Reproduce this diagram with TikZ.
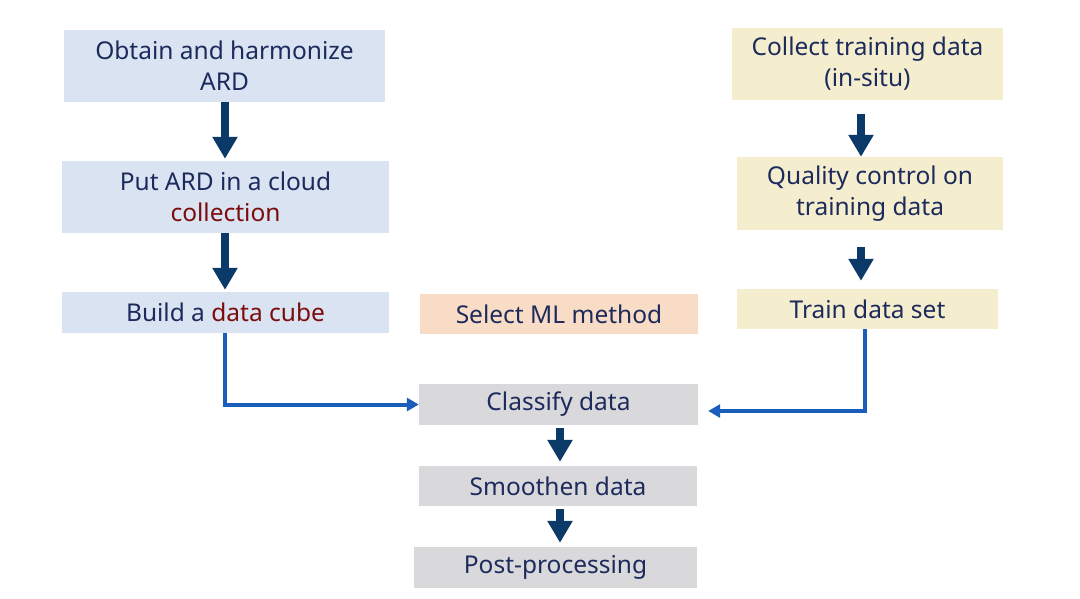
\documentclass[tikz,border=0pt]{standalone}
\usepackage{fontspec}
\setmainfont{Noto Sans}
\usetikzlibrary{arrows.meta}
\definecolor{txt}{HTML}{1C2A5C}
\definecolor{red}{HTML}{7A0C0C}
\definecolor{bluebox}{HTML}{DAE3F2}
\definecolor{peach}{HTML}{F8DCC6}
\definecolor{yellowbox}{HTML}{F5EECE}
\definecolor{graybox}{HTML}{D9D9DC}
\definecolor{dark}{HTML}{0B3A68}
\definecolor{conn}{HTML}{1A5DBA}
\tikzset{
  box/.style={draw=none, inner sep=0pt, align=center, text=txt,
    font=\fontsize{24.5}{31}\selectfont},
  fat/.style={draw=dark, line width=8pt, -{Triangle[width=24pt,length=22pt]}},
  link/.style={draw=conn, line width=4pt, -{Triangle[width=13pt,length=12pt]}},
}
\begin{document}
\begin{tikzpicture}[x=1pt,y=-1pt]
\useasboundingbox (0,0) rectangle (1080,598);
\node[box, fill=bluebox, minimum width=321pt, minimum height=72pt] (obtain) at (224.5,66) {Obtain and harmonize\\ARD};
\node[box, fill=bluebox, minimum width=327pt, minimum height=72pt] (put) at (225.5,197) {Put ARD in a cloud\\\textcolor{red}{collection}};
\node[box, fill=bluebox, minimum width=327pt, minimum height=41pt] (build) at (225.5,312.5) {Build a \textcolor{red}{data cube}};
\node[box, fill=peach, minimum width=278pt, minimum height=40pt] (select) at (559,314) {Select ML method};
\node[box, fill=graybox, minimum width=279pt, minimum height=41pt] (classify) at (558.5,404.5) {Classify data};
\node[box, fill=graybox, minimum width=278pt, minimum height=40pt] (smooth) at (558,486) {Smoothen data};
\node[box, fill=graybox, minimum width=283pt, minimum height=41pt] (post) at (555.5,567.5) {Post-processing};
\node[box, fill=yellowbox, minimum width=271pt, minimum height=72pt] (collect) at (867.5,64) {Collect training data\\(in-situ)};
\node[box, fill=yellowbox, minimum width=266pt, minimum height=73pt] (quality) at (870,193.5) {Quality control on\\training data};
\node[box, fill=yellowbox, minimum width=261pt, minimum height=40pt] (train) at (867.5,309) {Train data set};

\draw[fat] (obtain.south -| 225,0) -- ([yshift=2pt]put.north -| 225,0);
\draw[fat] (put.south -| 225,0) -- ([yshift=2pt]build.north -| 225,0);
\draw[fat] ([yshift=-3pt]classify.south -| 560,0) -- ([yshift=4pt]smooth.north -| 560,0);
\draw[fat] ([yshift=-3pt]smooth.south -| 560,0) -- ([yshift=4pt]post.north -| 560,0);
\draw[fat] ([yshift=-14pt]collect.south -| 861,0) -- ([yshift=0pt]quality.north -| 861,0);
\draw[fat] ([yshift=-17pt]quality.south -| 861,0) -- ([yshift=8pt]train.north -| 861,0);

\draw[link] (build.south -| 225,0) |- (classify.west);
\draw[link] (train.south -| 865,0) |- ([xshift=10pt,yshift=-6.5pt]classify.east);
\end{tikzpicture}
\end{document}
